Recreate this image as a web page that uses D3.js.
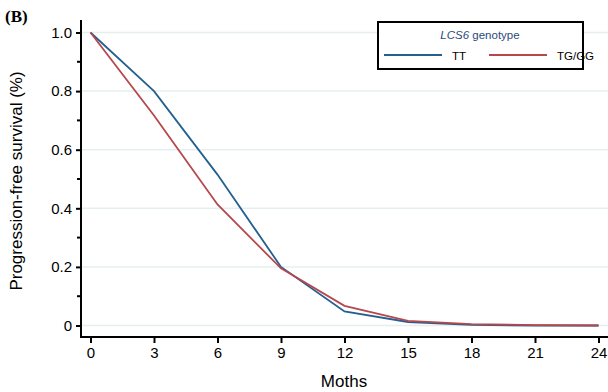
<!DOCTYPE html>
<html><head><meta charset="utf-8">
<script src="https://cdn.jsdelivr.net/npm/d3@7"></script>
<style>body{margin:0;background:#fff}svg{display:block}text{font-family:"Liberation Sans",Arial,sans-serif}</style>
</head><body>
<script>
const months = [0, 3, 6, 9, 12, 15, 18, 21, 24];
const seriesNames = ["TT", "TG/GG"];
const ttValues = [1.0, 0.80, 0.515, 0.20, 0.048, 0.012, 0.002, 0.0, 0.0];
const tgValues = [1.0, 0.717, 0.413, 0.195, 0.067, 0.016, 0.005, 0.001, 0.0];
const yTicks = [0, 0.2, 0.4, 0.6, 0.8, 1.0];
const yTickLabels = ["0", "0.2", "0.4", "0.6", "0.8", "1.0"];
const colors = ["#23608f", "#b5474d"];

const W = 608, H = 392;
const svg = d3.select("body").append("svg").attr("width", W).attr("height", H);
const x = d3.scaleLinear().domain([0, 24]).range([90.5, 598.5]);
const y = d3.scaleLinear().domain([0, 1]).range([325.5, 32.5]);

// grid
svg.append("g").selectAll("line").data(yTicks).join("line")
  .attr("x1", 82).attr("x2", 608).attr("y1", d => y(d)).attr("y2", d => y(d))
  .attr("stroke", "#e6efef").attr("stroke-width", 1.5);

// y axis
const yAxis = d3.axisLeft(y).tickValues(yTicks).tickFormat((d, i) => yTickLabels[i]).tickSize(5).tickSizeOuter(0);
const gy = svg.append("g").attr("transform", "translate(81,0)").call(yAxis);
gy.select(".domain").attr("d", "M0,20V338").attr("stroke", "#000").attr("stroke-width", 2);
gy.selectAll(".tick line").attr("stroke-width", 2);
gy.selectAll(".tick text").attr("font-size", 15).attr("fill", "#000").attr("x", -9);
// minor ticks
const minor = d3.range(0.1, 1, 0.2);
gy.append("g").selectAll("line").data(minor).join("line")
  .attr("x1", -4).attr("x2", 0).attr("y1", d => y(d)).attr("y2", d => y(d))
  .attr("stroke", "#000").attr("stroke-width", 2);

// x axis
const xAxis = d3.axisBottom(x).tickValues(months).tickFormat(d3.format("d")).tickSize(6).tickSizeOuter(0);
const gx = svg.append("g").attr("transform", "translate(0,337)").call(xAxis);
gx.select(".domain").attr("d", "M80,0H608").attr("stroke", "#000").attr("stroke-width", 2);
gx.selectAll(".tick line").attr("stroke-width", 2);
gx.selectAll(".tick text").attr("font-size", 15).attr("fill", "#000").attr("y", 10);

// lines
const line = d3.line().x((d, i) => x(months[i])).y(d => y(d));
[ttValues, tgValues].forEach((vals, k) => {
  svg.append("path").datum(vals).attr("d", line).attr("fill", "none")
    .attr("stroke", colors[k]).attr("stroke-width", 1.8);
});

// labels
svg.append("text").attr("x", 5).attr("y", 22).text("(B)")
  .style("font-family", "'Liberation Serif','Times New Roman',serif").style("font-weight", "bold").style("font-size", "17px");
svg.append("text").attr("transform", "translate(22,181) rotate(-90)").attr("text-anchor", "middle")
  .attr("font-size", 17).text("Progression-free survival (%)");
svg.append("text").attr("x", 344).attr("y", 387).attr("text-anchor", "middle")
  .attr("font-size", 17).text("Moths");

// legend
const lg = svg.append("g");
lg.append("rect").attr("x", 378).attr("y", 22).attr("width", 205).attr("height", 47)
  .attr("fill", "#fff").attr("stroke", "#000").attr("stroke-width", 2);
const title = lg.append("text").attr("x", 480).attr("y", 39).attr("text-anchor", "middle")
  .attr("font-size", 11.5).attr("fill", "#2c4a7a");
title.append("tspan").attr("font-style", "italic").text("LCS6");
title.append("tspan").text(" genotype");
const lx = [384, 489];
seriesNames.forEach((n, k) => {
  lg.append("line").attr("x1", lx[k]).attr("x2", lx[k] + 58).attr("y1", 55).attr("y2", 55)
    .attr("stroke", colors[k]).attr("stroke-width", 2);
  lg.append("text").attr("x", lx[k] + 68).attr("y", 59.5).attr("font-size", 11.5).attr("fill", "#000").text(n);
});
</script>
</body></html>
